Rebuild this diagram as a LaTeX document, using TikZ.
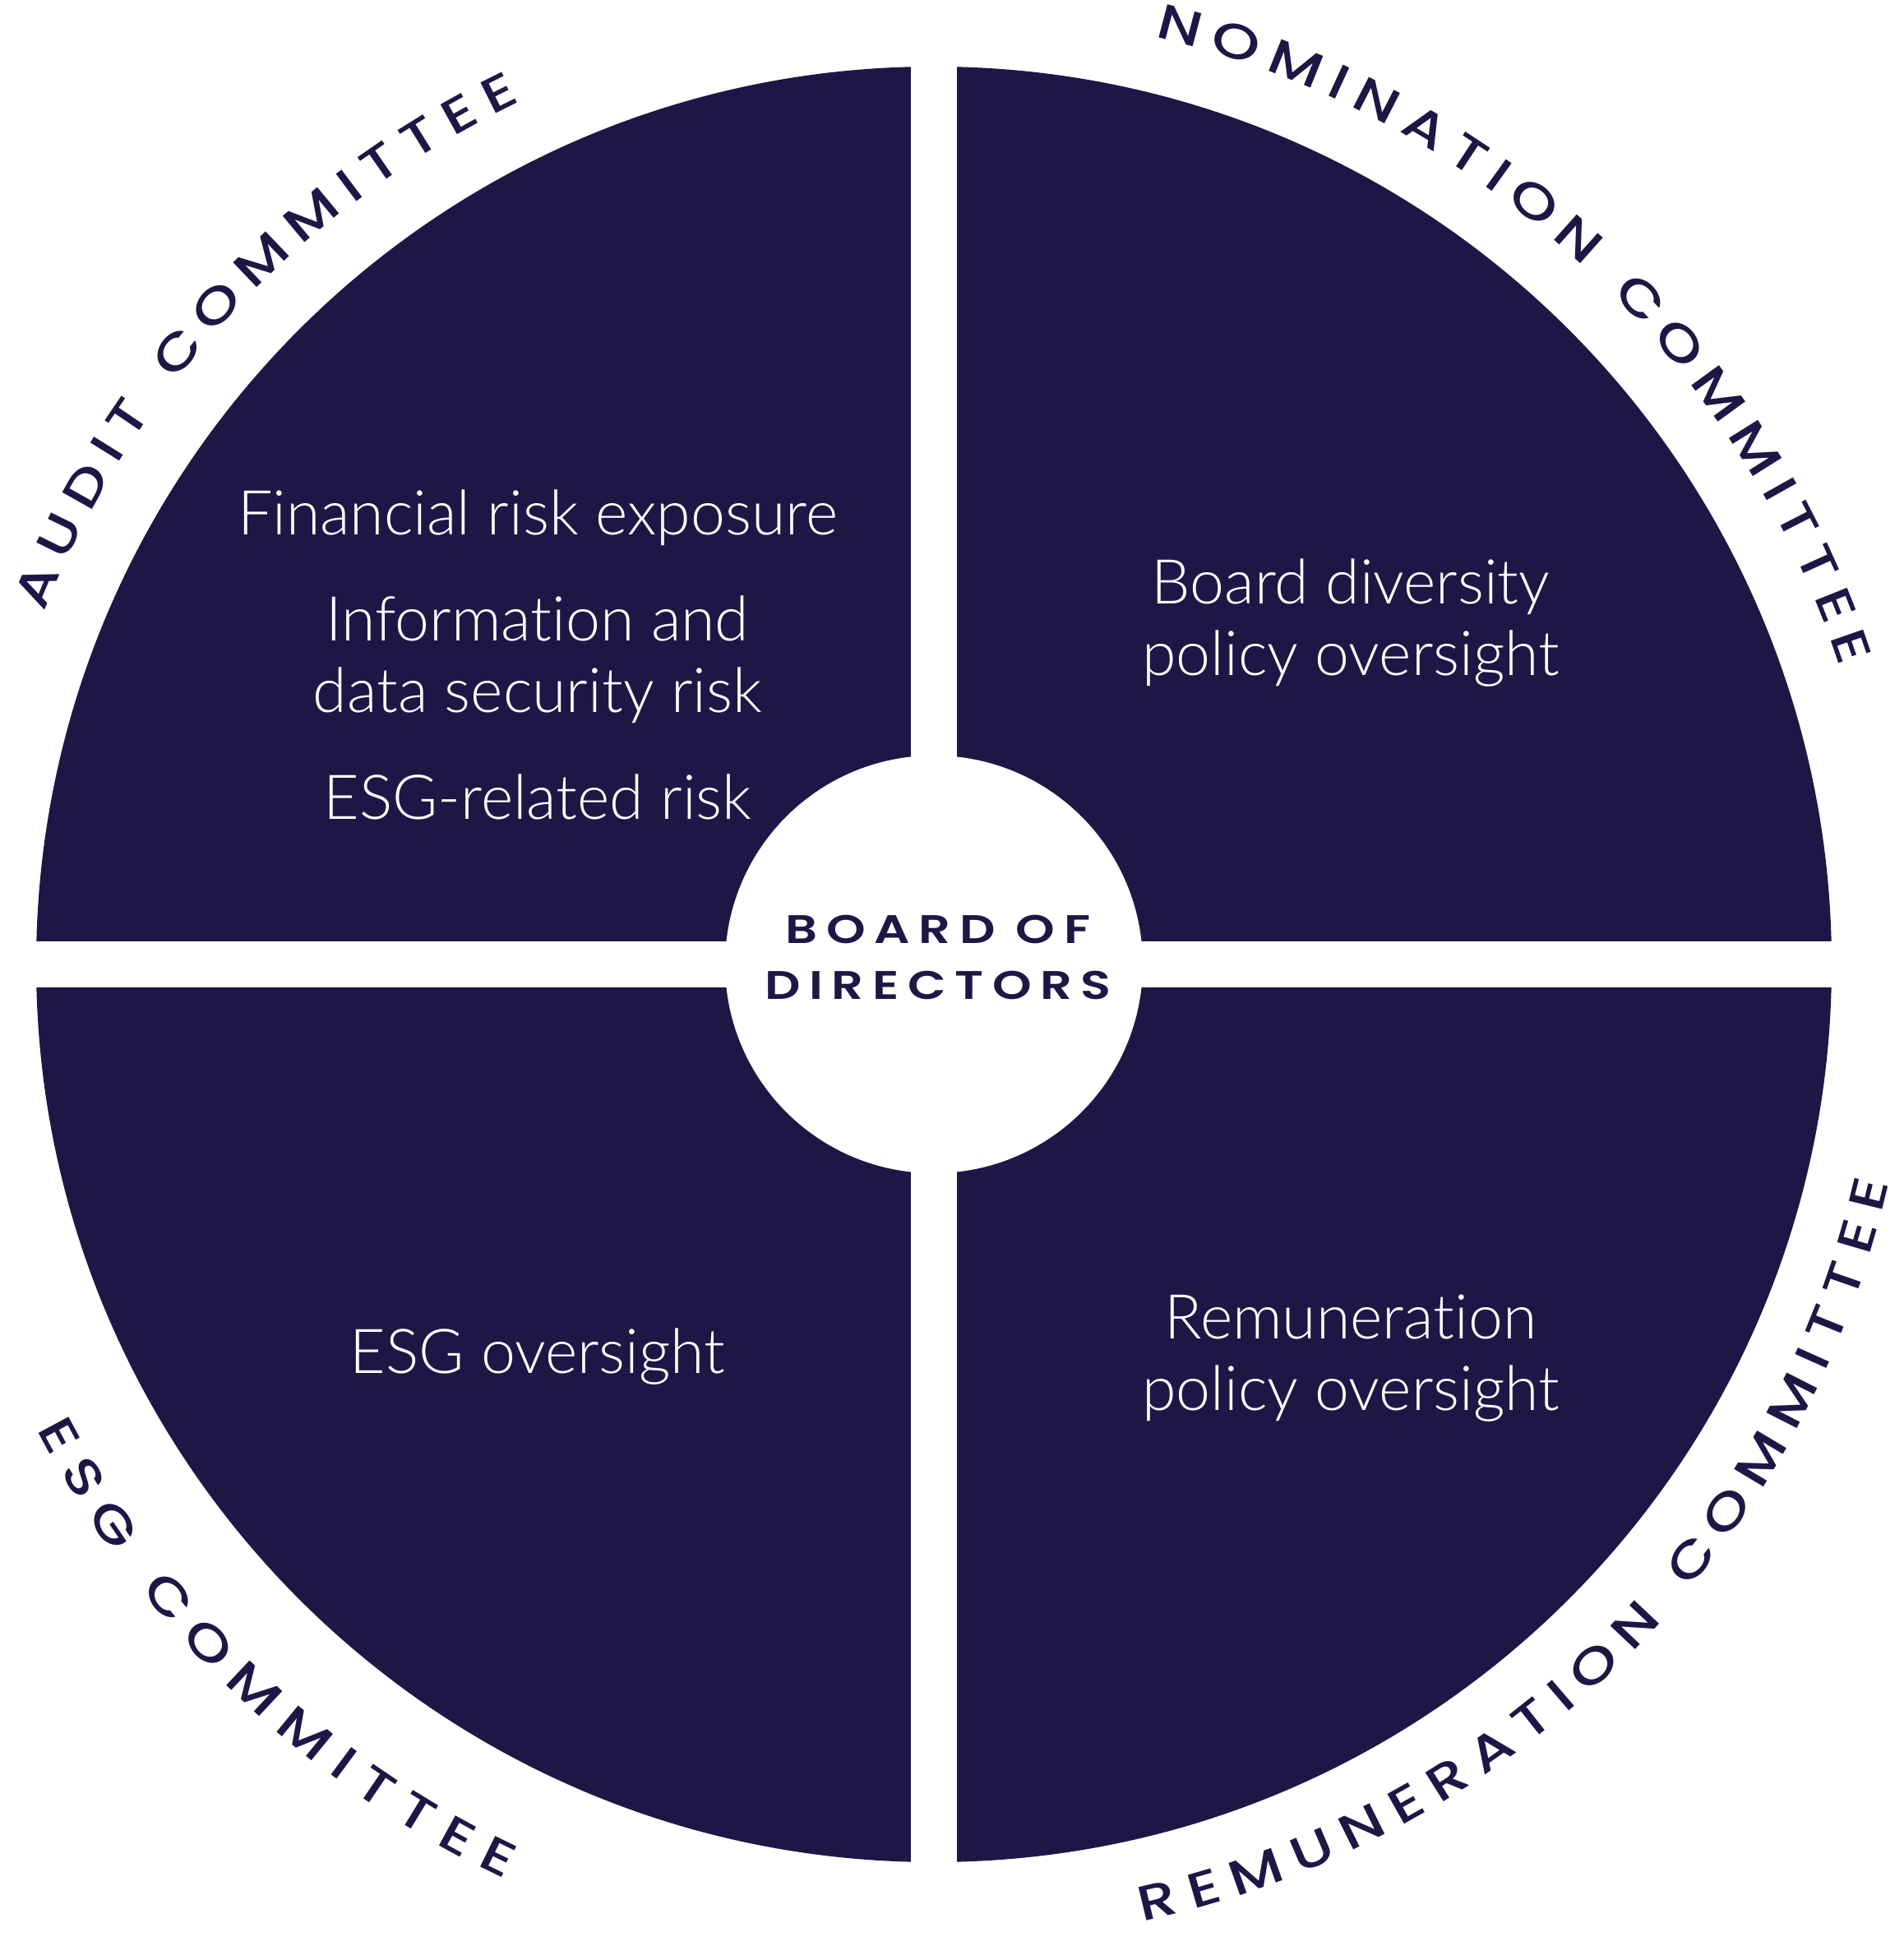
\documentclass[tikz,border=0pt]{standalone}
\usepackage{fontspec}
\setmainfont{Lato Light}[Ligatures=NoCommon]
\newfontfamily\labelfont{Poppins Medium}[FakeStretch=1.25]
\newfontfamily\boardfont{Poppins SemiBold}[FakeStretch=1.25,LetterSpace=22]
\usetikzlibrary{calc,decorations.text}
\definecolor{navy}{HTML}{1E1746}
\tikzset{quadtext/.style={white,align=center,anchor=base,font=\fontsize{21.4}{24.9}\selectfont}}

\begin{document}
\begin{tikzpicture}
    \tikzset{ringlabel/.style={decorate,decoration={text along path,text={|\labelfont\fontsize{17}{17}\selectfont|#1},text color=navy,text align={fit to path}}}}
    \useasboundingbox (0,0) rectangle (23.16,23.67);
    \coordinate (c) at (11.36,11.94);
    % disc, cross and the hole in the middle
    \fill[navy] (c) circle (10.92);
    \fill[white] ($(c)+(-11,-0.28)$) rectangle ($(c)+(11,0.28)$);
    \fill[white] ($(c)+(-0.28,-11)$) rectangle ($(c)+(0.28,11)$);
    \fill[white] (c) circle (2.54);
    \node[navy,align=center,font={\boardfont\fontsize{13.8}{19.35}\selectfont}] (board) at ($(c)+(0.05,0.08)$) {BOARD OF\\DIRECTORS};
    % what each committee looks after (base = last line)
    \node[quadtext] (fin) at (6.54,17.16) {Financial risk exposure};
    \node[quadtext] (info) at (6.54,15.0) {Information and\\data security risk};
    \node[quadtext] (esgrisk) at (6.54,13.70) {ESG-related risk};
    \node[quadtext] (diversity) at (16.43,15.45) {Board diversity\\policy oversight};
    \node[quadtext] (esgover) at (6.54,6.96) {ESG oversight};
    \node[quadtext] (remun) at (16.43,6.51) {Remuneration\\policy oversight};
    % committee names round the ring
    \path[ringlabel={AUDIT COMMITTEE}] ($(c)+(158.4:11.64)$) arc[start angle=158.4,end angle=115.6,radius=11.64];
    \path[ringlabel={NOMINATION COMMITTEE}] ($(c)+(76.6:11.6)$) arc[start angle=76.6,end angle=18.2,radius=11.6];
    \path[ringlabel={ESG COMMITTEE}] ($(c)+(207.4:12.29)$) arc[start angle=207.4,end angle=244.9,radius=12.29];
    \path[ringlabel={REMUNERATION COMMITTEE}] ($(c)+(-77.7:11.92)$) arc[start angle=-77.7,end angle=-12.9,radius=11.92];
\end{tikzpicture}
\end{document}
